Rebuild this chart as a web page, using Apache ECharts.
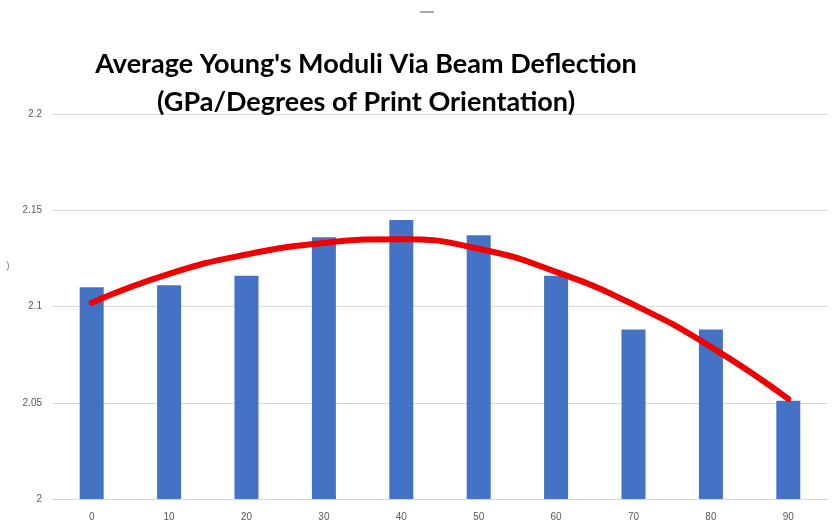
<!DOCTYPE html>
<html>
<head>
<meta charset="utf-8">
<script src="https://cdn.jsdelivr.net/npm/echarts@6/dist/echarts.min.js"></script>
<style>
  html, body { margin: 0; padding: 0; background: #fff; }
  #chart { width: 832px; height: 523px; }
</style>
</head>
<body>
<div id="chart"></div>
<script>
// print orientation (degrees)
const angles = ['0', '10', '20', '30', '40', '50', '60', '70', '80', '90'];
// average Young's modulus (GPa)
const moduli = [2.110, 2.111, 2.116, 2.136, 2.145, 2.137, 2.116, 2.088, 2.088, 2.051];
// hand drawn trend curve
const trend = [2.102, 2.117, 2.127, 2.133, 2.135, 2.130, 2.118, 2.101, 2.079, 2.052];

const myChart = echarts.init(document.getElementById('chart'));

const option = {
  animation: false,
  title: {
    text: "Average Young's Moduli Via Beam Deflection\n(GPa/Degrees of Print Orientation)",
    left: 361,
    top: 40,
    textAlign: 'center',
    textStyle: {
      fontFamily: 'Lato',
      fontWeight: 'bold',
      fontSize: 27,
      lineHeight: 38,
      color: '#000',
      align: 'center'
    }
  },
  graphic: [
    { type: 'text', left: 6, top: 260, style: { text: ')', fontSize: 11, fill: '#888' } },
    { type: 'rect', shape: { x: 420, y: 11, width: 14, height: 2 }, style: { fill: '#aaa' } }
  ],
  grid: { left: 53, right: 5, top: 114, bottom: 24 },
  xAxis: {
    type: 'category',
    data: angles,
    axisTick: { show: false },
    axisLine: { lineStyle: { color: '#d9d9d9', width: 1 } },
    axisLabel: { color: '#595959', fontSize: 10, margin: 13, fontFamily: 'Liberation Sans' }
  },
  yAxis: {
    type: 'value',
    min: 2,
    max: 2.2,
    interval: 0.05,
    axisLine: { show: false },
    axisTick: { show: false },
    splitLine: { lineStyle: { color: '#d9d9d9', width: 1 } },
    axisLabel: { color: '#595959', fontSize: 10, margin: 11, fontFamily: 'Liberation Sans' }
  },
  series: [
    {
      type: 'bar',
      data: moduli,
      barWidth: 24,
      itemStyle: { color: '#4472c4' }
    },
    {
      type: 'line',
      data: trend,
      smooth: 0.5,
      symbol: 'none',
      lineStyle: { color: '#f00000', width: 6, cap: 'round' }
    }
  ]
};

myChart.setOption(option);
</script>
</body>
</html>
